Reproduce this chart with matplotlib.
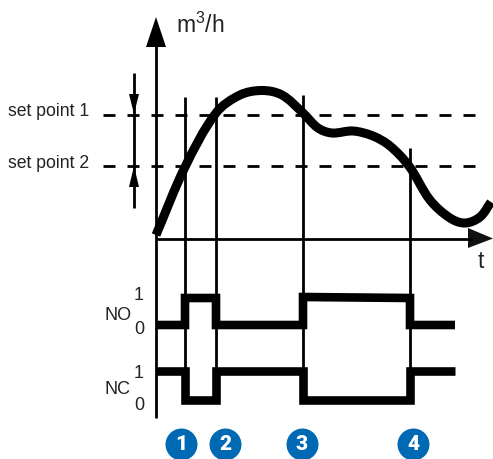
import numpy as np
import matplotlib.pyplot as plt
from matplotlib.patches import Polygon, PathPatch
from matplotlib.path import Path

plt.rcParams['font.family'] = ['Liberation Sans', 'DejaVu Sans']
plt.rcParams['mathtext.default'] = 'regular'

# everything, in pixels
curve_x = [156, 185, 216, 240, 262, 282, 303, 318, 332, 353, 373, 390, 409, 430, 450, 465, 480, 491]
curve_y = [235, 167, 113, 95, 90.5, 95, 113, 128, 133, 131, 136, 146, 166, 200, 218, 223, 217, 202]

no_x = [156, 185, 185, 216, 216, 303, 303, 410, 410, 455]
no_y = [325, 325, 298, 298, 325, 325, 297, 298, 325, 325]
nc_x = [156, 185, 185, 216, 216, 303, 303, 410, 410, 455]
nc_y = [371, 371, 400, 400, 371, 371, 400, 400, 371, 371]

event_x = [185, 216, 303, 410]
event_top = [97, 97, 95, 148]
event_bottom = [400, 400, 400, 400]
event_labels = ['1', '2', '3', '4']
badge_x = [181, 225, 302, 413]
badge_y = 444

setpoint_y = [114.5, 165.5]
setpoint_text_y = [111, 164]
setpoint_labels = ['set point 1', 'set point 2']


def smooth_path(x, y):
    # bezier segments through the read points, so the thick line has no corners
    pts = np.column_stack([x, y]).astype(float)
    seg = np.hypot(*(pts[1:] - pts[:-1]).T)
    dirs = np.zeros_like(pts)
    dirs[1:-1] = pts[2:] - pts[:-2]
    dirs[0] = pts[1] - pts[0]
    dirs[-1] = pts[-1] - pts[-2]
    dirs = dirs / np.hypot(dirs[:, 0], dirs[:, 1])[:, None]
    verts = [pts[0]]
    codes = [Path.MOVETO]
    for i in range(len(pts) - 1):
        verts += [pts[i] + dirs[i] * seg[i] / 3, pts[i + 1] - dirs[i + 1] * seg[i] / 3, pts[i + 1]]
        codes += [Path.CURVE4, Path.CURVE4, Path.CURVE4]
    return Path(verts, codes)


fig = plt.figure(figsize=(4.93, 4.59), dpi=100)
ax = fig.add_axes([0, 0, 1, 1])
ax.set_xlim(0, 493)
ax.set_ylim(459, 0)
ax.axis('off')

# axes
ax.plot([156, 156], [45, 418], color='black', lw=2.0, solid_capstyle='butt')
ax.plot([156, 472], [238.5, 238.5], color='black', lw=2.0, solid_capstyle='butt')
ax.add_patch(Polygon([[156, 17], [146, 47], [166, 47]], closed=True, fc='black', ec='none'))
ax.add_patch(Polygon([[493, 238.5], [468, 228], [468, 248]], closed=True, fc='#111111', ec='none'))

# set points
for y, ty, lab in zip(setpoint_y, setpoint_text_y, setpoint_labels):
    ax.plot([103, 476], [y, y], color='black', lw=2.0, dashes=(4.32, 4.32), dash_capstyle='butt')
    ax.text(8, ty, lab, fontsize=12.7, color='#222222', ha='left', va='center')

# hysteresis arrows
ax.plot([134, 134], [73, 208], color='black', lw=2.0, solid_capstyle='butt')
ax.add_patch(Polygon([[134, 114], [129, 94], [139, 94]], closed=True, fc='black', ec='none'))
ax.add_patch(Polygon([[134, 166], [129, 187], [139, 187]], closed=True, fc='black', ec='none'))

# switching points
for x, top, bot in zip(event_x, event_top, event_bottom):
    ax.plot([x, x], [top, bot], color='black', lw=2.0, solid_capstyle='butt')

ax.add_patch(PathPatch(smooth_path(curve_x, curve_y), fc='none', ec='black', lw=6.5,
                       capstyle='butt', joinstyle='round', zorder=4))
ax.plot(no_x, no_y, color='black', lw=6.2, solid_joinstyle='miter', solid_capstyle='butt', zorder=4)
ax.plot(nc_x, nc_y, color='black', lw=6.2, solid_joinstyle='miter', solid_capstyle='butt', zorder=4)

# labels
ax.text(176, 25, 'm$^3$/h', fontsize=16.5, color='#222222', ha='left', va='center')
ax.text(481, 262, 't', fontsize=16.5, color='#222222', ha='center', va='center')
ax.text(105, 315, 'NO', fontsize=13, color='#222222', ha='left', va='center')
ax.text(105, 389, 'NC', fontsize=13, color='#222222', ha='left', va='center')
ax.text(139, 296, '1', fontsize=13, color='#222222', ha='center', va='center')
ax.text(139, 329, '0', fontsize=13, color='#222222', ha='center', va='center')
ax.text(139, 374, '1', fontsize=13, color='#222222', ha='center', va='center')
ax.text(139, 405, '0', fontsize=13, color='#222222', ha='center', va='center')

# numbered badges
ax.scatter(badge_x, [badge_y] * 4, s=530, color='#0069b4', linewidths=0, zorder=5)
for x, lab in zip(badge_x, event_labels):
    ax.text(x, badge_y, lab, fontsize=15, color='white', family='Roboto', fontweight='black',
            ha='center', va='center', zorder=6)

fig.savefig('out.png', dpi=100)
